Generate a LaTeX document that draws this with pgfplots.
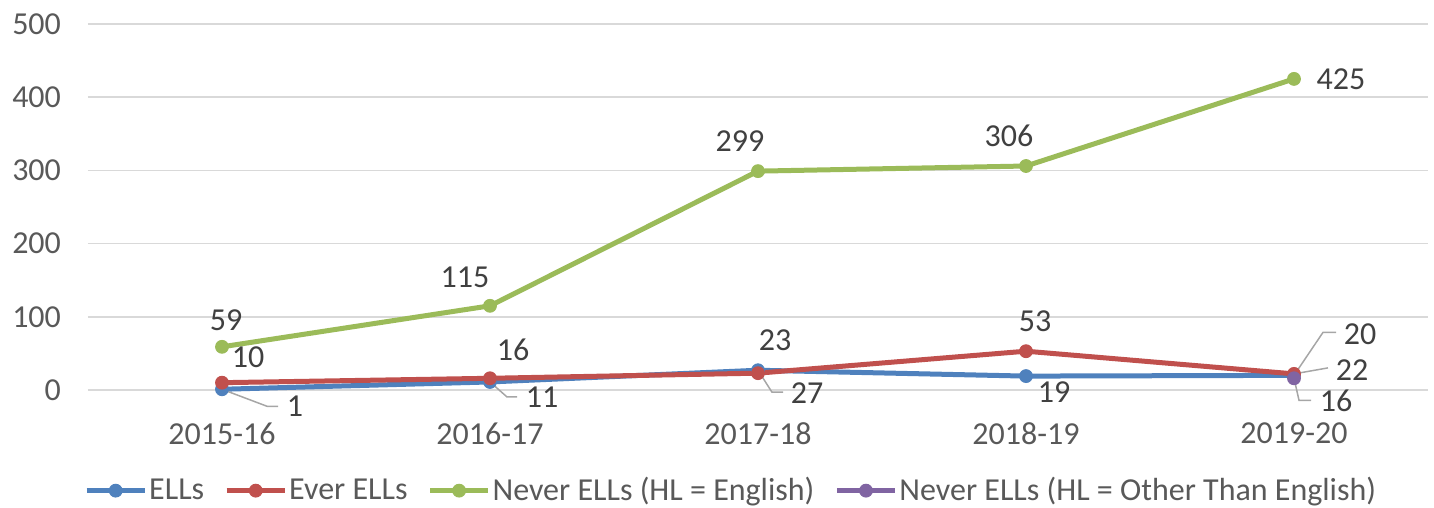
\documentclass[border=0pt]{standalone}
\usepackage{fontspec}
\setmainfont{Carlito}
\usepackage{pgfplots}
\usepackage{pgfplotstable}
\pgfplotsset{compat=1.18}
\definecolor{cB}{HTML}{4F81BD}
\definecolor{cR}{HTML}{C0504D}
\definecolor{cG}{HTML}{9BBB59}
\definecolor{cP}{HTML}{8064A2}
\definecolor{tickc}{HTML}{595959}
\definecolor{labc}{HTML}{404040}
\definecolor{gridc}{HTML}{D9D9D9}
\definecolor{leadc}{HTML}{A6A6A6}
\newcommand{\chartfont}{\fontsize{16}{19}\selectfont}

\pgfplotstableread{
x y dx dy
0 1 36.5 -8.5
1 11 26 -7.5
2 27 24.5 -11.5
3 19 14 -8
4 20 33 20.5
}\ells
\pgfplotstableread{
x y dx dy
0 10 13 12.5
1 16 11.5 14
2 23 8.5 16.5
3 53 4.5 15
4 22 29 2
}\ever
\pgfplotstableread{
x y dx dy
0 59 2 13.5
1 115 -12.5 14.5
2 299 -9 15
3 306 -8.5 15
4 425 23.5 0
}\never
\pgfplotstableread{
x y dx dy
4 16 21 -11.5
}\other

\pgfplotsset{
  lbls/.style={
    nodes near coords,
    visualization depends on={\thisrow{dx}\as\dx},
    visualization depends on={\thisrow{dy}\as\dy},
    every node near coord/.append style={anchor=center, inner sep=0pt, xshift=\dx pt, yshift=\dy pt, text=labc, font=\chartfont},
  },
}

\begin{document}
\begin{tikzpicture}
\begin{axis}[
  name=ax,
  scale only axis,
  width=670pt, height=183pt,
  xmin=-0.5, xmax=4.5,
  ymin=0, ymax=500,
  ytick={0,100,200,300,400,500},
  xtick={0,1,2,3,4},
  xticklabels={2015-16,2016-17,2017-18,2018-19,2019-20},
  ymajorgrids,
  grid style={gridc, line width=0.75pt},
  axis line style={draw=none},
  major tick length=0pt,
  clip=false,
  /pgf/number format/assume math mode=true,
  yticklabel style={font=\chartfont, text=tickc, xshift=-10pt},
  xticklabel style={font=\chartfont, text=tickc, inner sep=0pt, yshift=-16pt},
  legend style={at={(0.48,-0.275)}, anchor=center, draw=none, fill=none,
    legend columns=4, font=\chartfont, text=tickc,
    nodes={inner xsep=1pt, inner ysep=0pt},
    /tikz/every even column/.append style={column sep=9pt}},
  legend image code/.code={\draw[mark repeat=2,mark phase=2,#1] plot coordinates {(0pt,0pt) (14.5pt,0pt) (29pt,0pt)};},
  every axis plot/.append style={line width=2.5pt, mark=*, mark size=3.2pt},
]
\addplot[cB, lbls, mark options={solid, fill=cB, draw=cB, line width=0.5pt}] table[x=x,y=y]{\ells};
\addlegendentry{ELLs}
\addplot[cR, lbls, mark options={solid, fill=cR, draw=cR, line width=0.5pt}] table[x=x,y=y]{\ever};
\addlegendentry{Ever ELLs}
\addplot[cG, lbls, mark options={solid, fill=cG, draw=cG, line width=0.5pt}] table[x=x,y=y]{\never};
\addlegendentry{Never ELLs (HL = English)}
\addplot[cP, lbls, mark options={solid, fill=cP, draw=cP, line width=0.5pt}] table[x=x,y=y]{\other};
\addlegendentry{Never ELLs (HL = Other Than English)}
% leader lines
\draw[leadc, line width=0.75pt] (axis cs:0,1) -- ([shift={(22.5pt,-8.5pt)}]axis cs:0,1) -- ([shift={(28pt,-8.5pt)}]axis cs:0,1);
\draw[leadc, line width=0.75pt] (axis cs:1,11) -- ([shift={(8.5pt,-7.5pt)}]axis cs:1,11) -- ([shift={(13.5pt,-7.5pt)}]axis cs:1,11);
\draw[leadc, line width=0.75pt] (axis cs:2,27) -- ([shift={(7pt,-11pt)}]axis cs:2,27) -- ([shift={(12.5pt,-11pt)}]axis cs:2,27);
\draw[leadc, line width=0.75pt] (axis cs:4,20) -- ([shift={(14.5pt,21.5pt)}]axis cs:4,20) -- ([shift={(21pt,21.5pt)}]axis cs:4,20);
\draw[leadc, line width=0.75pt] (axis cs:4,22) -- ([shift={(17pt,3pt)}]axis cs:4,22);
\draw[leadc, line width=0.75pt] (axis cs:4,16) -- ([shift={(2.5pt,-11pt)}]axis cs:4,16) -- ([shift={(8.5pt,-11pt)}]axis cs:4,16);
\end{axis}
\pgfresetboundingbox
\path[use as bounding box] ([shift={(-44pt,-59pt)}]ax.south west) rectangle ([shift={(673pt,195pt)}]ax.south west);
\end{tikzpicture}
\end{document}
